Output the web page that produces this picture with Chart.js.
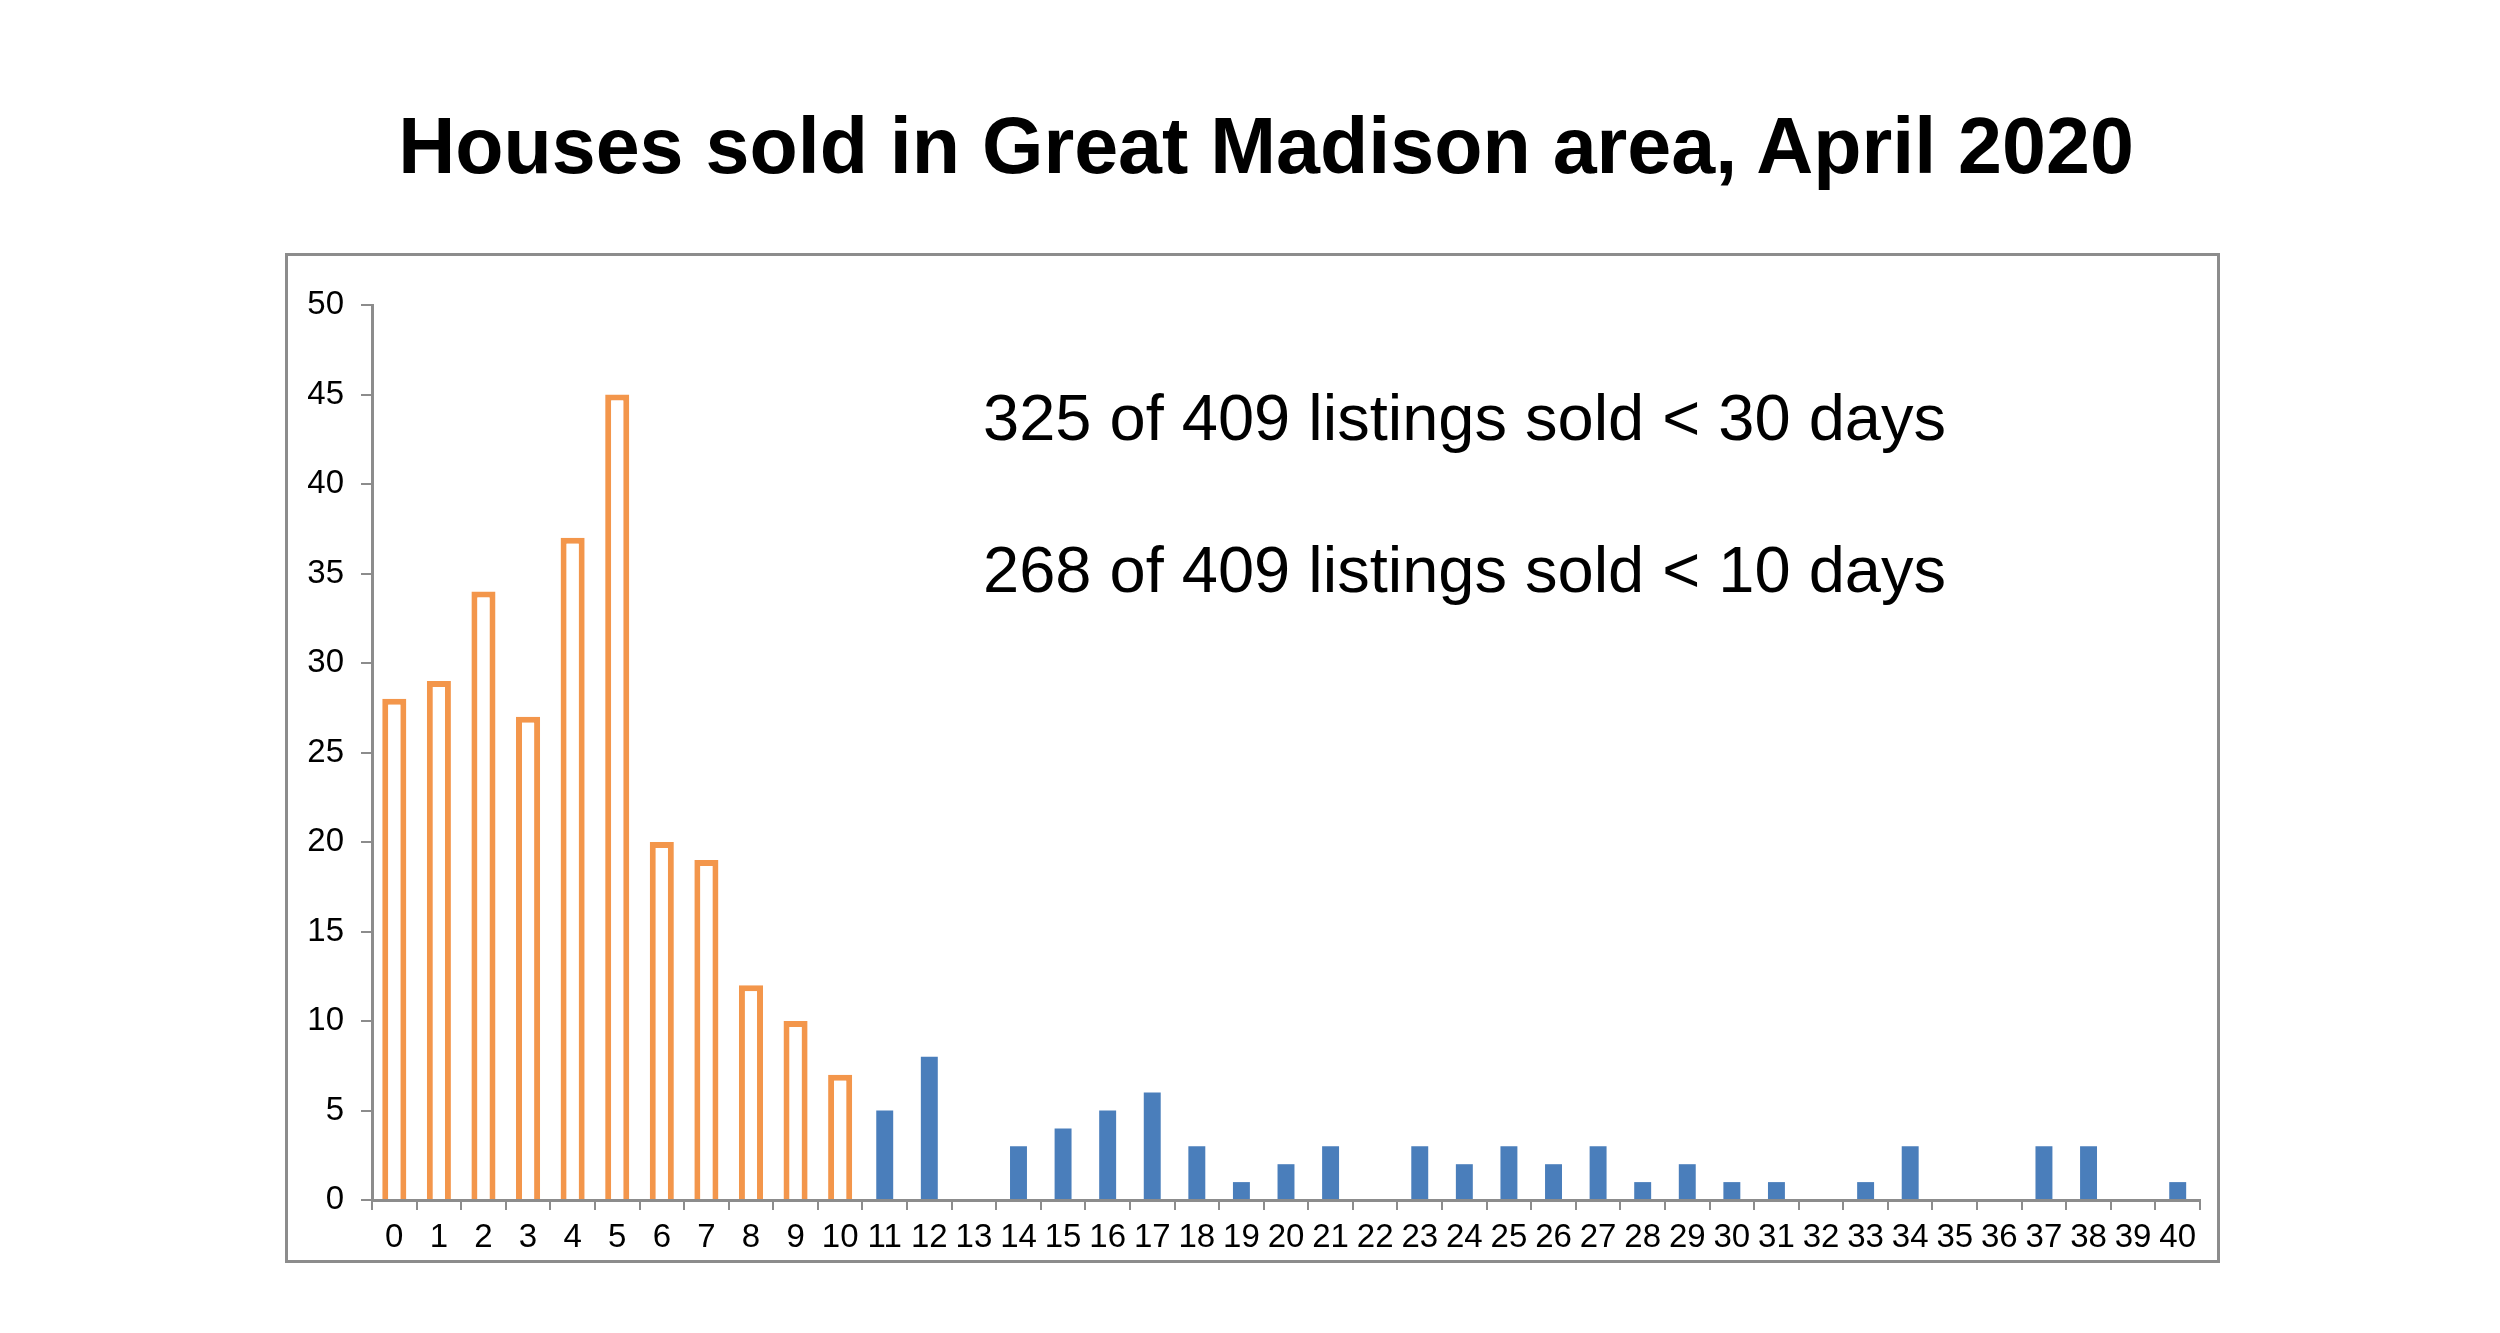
<!DOCTYPE html>
<html lang="en">
<head>
  <meta charset="UTF-8" />
  <title>Houses sold in Great Madison area, April 2020</title>
  <script src="https://cdn.jsdelivr.net/npm/chart.js"></script>
  <style>
    body {
      margin: 0;
      background: #fff;
      font-family: "Liberation Sans", Arial, sans-serif;
    }
    .title {
      position: absolute;
      left: 1266px;
      top: 106px;
      transform: translateX(-50%);
      white-space: nowrap;
      font-size: 79px;
      font-weight: bold;
      line-height: 1;
      color: #000;
    }
    /* grey frame round the plot */
    .frame {
      position: absolute;
      left: 285px;
      top: 253px;
      width: 1935px;
      height: 1010px;
      box-sizing: border-box;
      border: 3px solid #8c8c8c;
    }
    .wrap {
      position: absolute;
      left: 285px;
      top: 253px;
      width: 1935px;
      height: 1010px;
    }
    .note {
      position: absolute;
      left: 983px;
      font-size: 65px;
      line-height: 1;
      white-space: nowrap;
      color: #000;
    }
  </style>
</head>
<body>
  <div class="title">Houses sold in Great Madison area, April 2020</div>
  <div class="frame"></div>
  <div class="wrap"><canvas id="soldChart"></canvas></div>
  <div class="note" style="top: 385px;">325 of 409 listings sold &lt; 30 days</div>
  <div class="note" style="top: 537px;">268 of 409 listings sold &lt; 10 days</div>

  <script>
    // days on market, 0 to 40
    const days = ['0', '1', '2', '3', '4', '5', '6', '7', '8', '9', '10',
      '11', '12', '13', '14', '15', '16', '17', '18', '19', '20',
      '21', '22', '23', '24', '25', '26', '27', '28', '29', '30',
      '31', '32', '33', '34', '35', '36', '37', '38', '39', '40'];

    // houses sold within 0-10 days (orange outline)
    const soldFast = [28, 29, 34, 27, 37, 45, 20, 19, 12, 10, 7];

    // houses sold within 11-40 days (blue)
    const soldSlow = [5, 8, 0, 3, 4, 5, 6, 3, 1, 2,
      3, 0, 3, 2, 3, 2, 3, 1, 2, 1,
      1, 0, 1, 3, 0, 0, 3, 3, 0, 1];

    const yTicks = [0, 5, 10, 15, 20, 25, 30, 35, 40, 45, 50];

    const fastData = soldFast.concat(soldSlow.map(() => null));
    const slowData = soldFast.map(() => null).concat(soldSlow);

    const axisGrey = '#8c8c8c';
    const tickFont = { family: '"Liberation Sans", Arial, sans-serif', size: 33 };

    const ctx = document.getElementById('soldChart').getContext('2d');
    new Chart(ctx, {
      type: 'bar',
      data: {
        labels: days,
        datasets: [{
          label: '0-10 days',
          data: fastData,
          backgroundColor: '#ffffff',
          borderColor: '#f3964b',
          borderWidth: 6,
          borderSkipped: 'start',
          barPercentage: 0.54,
          categoryPercentage: 1
        }, {
          label: '11-40 days',
          data: slowData,
          backgroundColor: '#4a7ebb',
          borderWidth: 0,
          barPercentage: 0.38,
          categoryPercentage: 1
        }]
      },
      options: {
        responsive: true,
        maintainAspectRatio: false,
        animation: false,
        layout: { padding: { top: 52, right: 20, left: 0, bottom: 0 } },
        plugins: {
          legend: { display: false },
          tooltip: { enabled: false }
        },
        datasets: { bar: { grouped: false } },
        scales: {
          x: {
            offset: true,
            grid: {
              offset: true,
              drawOnChartArea: false,
              drawTicks: true,
              tickLength: 10,
              color: axisGrey,
              lineWidth: 2
            },
            border: { color: axisGrey, width: 3 },
            ticks: {
              color: '#000',
              font: tickFont,
              padding: 8,
              autoSkip: false,
              maxRotation: 0
            },
            afterFit: (s) => { s.height = 63; }
          },
          y: {
            min: 0,
            max: 50,
            afterBuildTicks: (s) => { s.ticks = yTicks.map(v => ({ value: v })); },
            grid: {
              drawOnChartArea: false,
              tickLength: 11,
              color: axisGrey,
              lineWidth: 2
            },
            border: { color: axisGrey, width: 3 },
            ticks: {
              color: '#000',
              font: tickFont,
              padding: 17
            },
            afterFit: (s) => { s.width = 87; }
          }
        }
      }
    });
  </script>
</body>
</html>
